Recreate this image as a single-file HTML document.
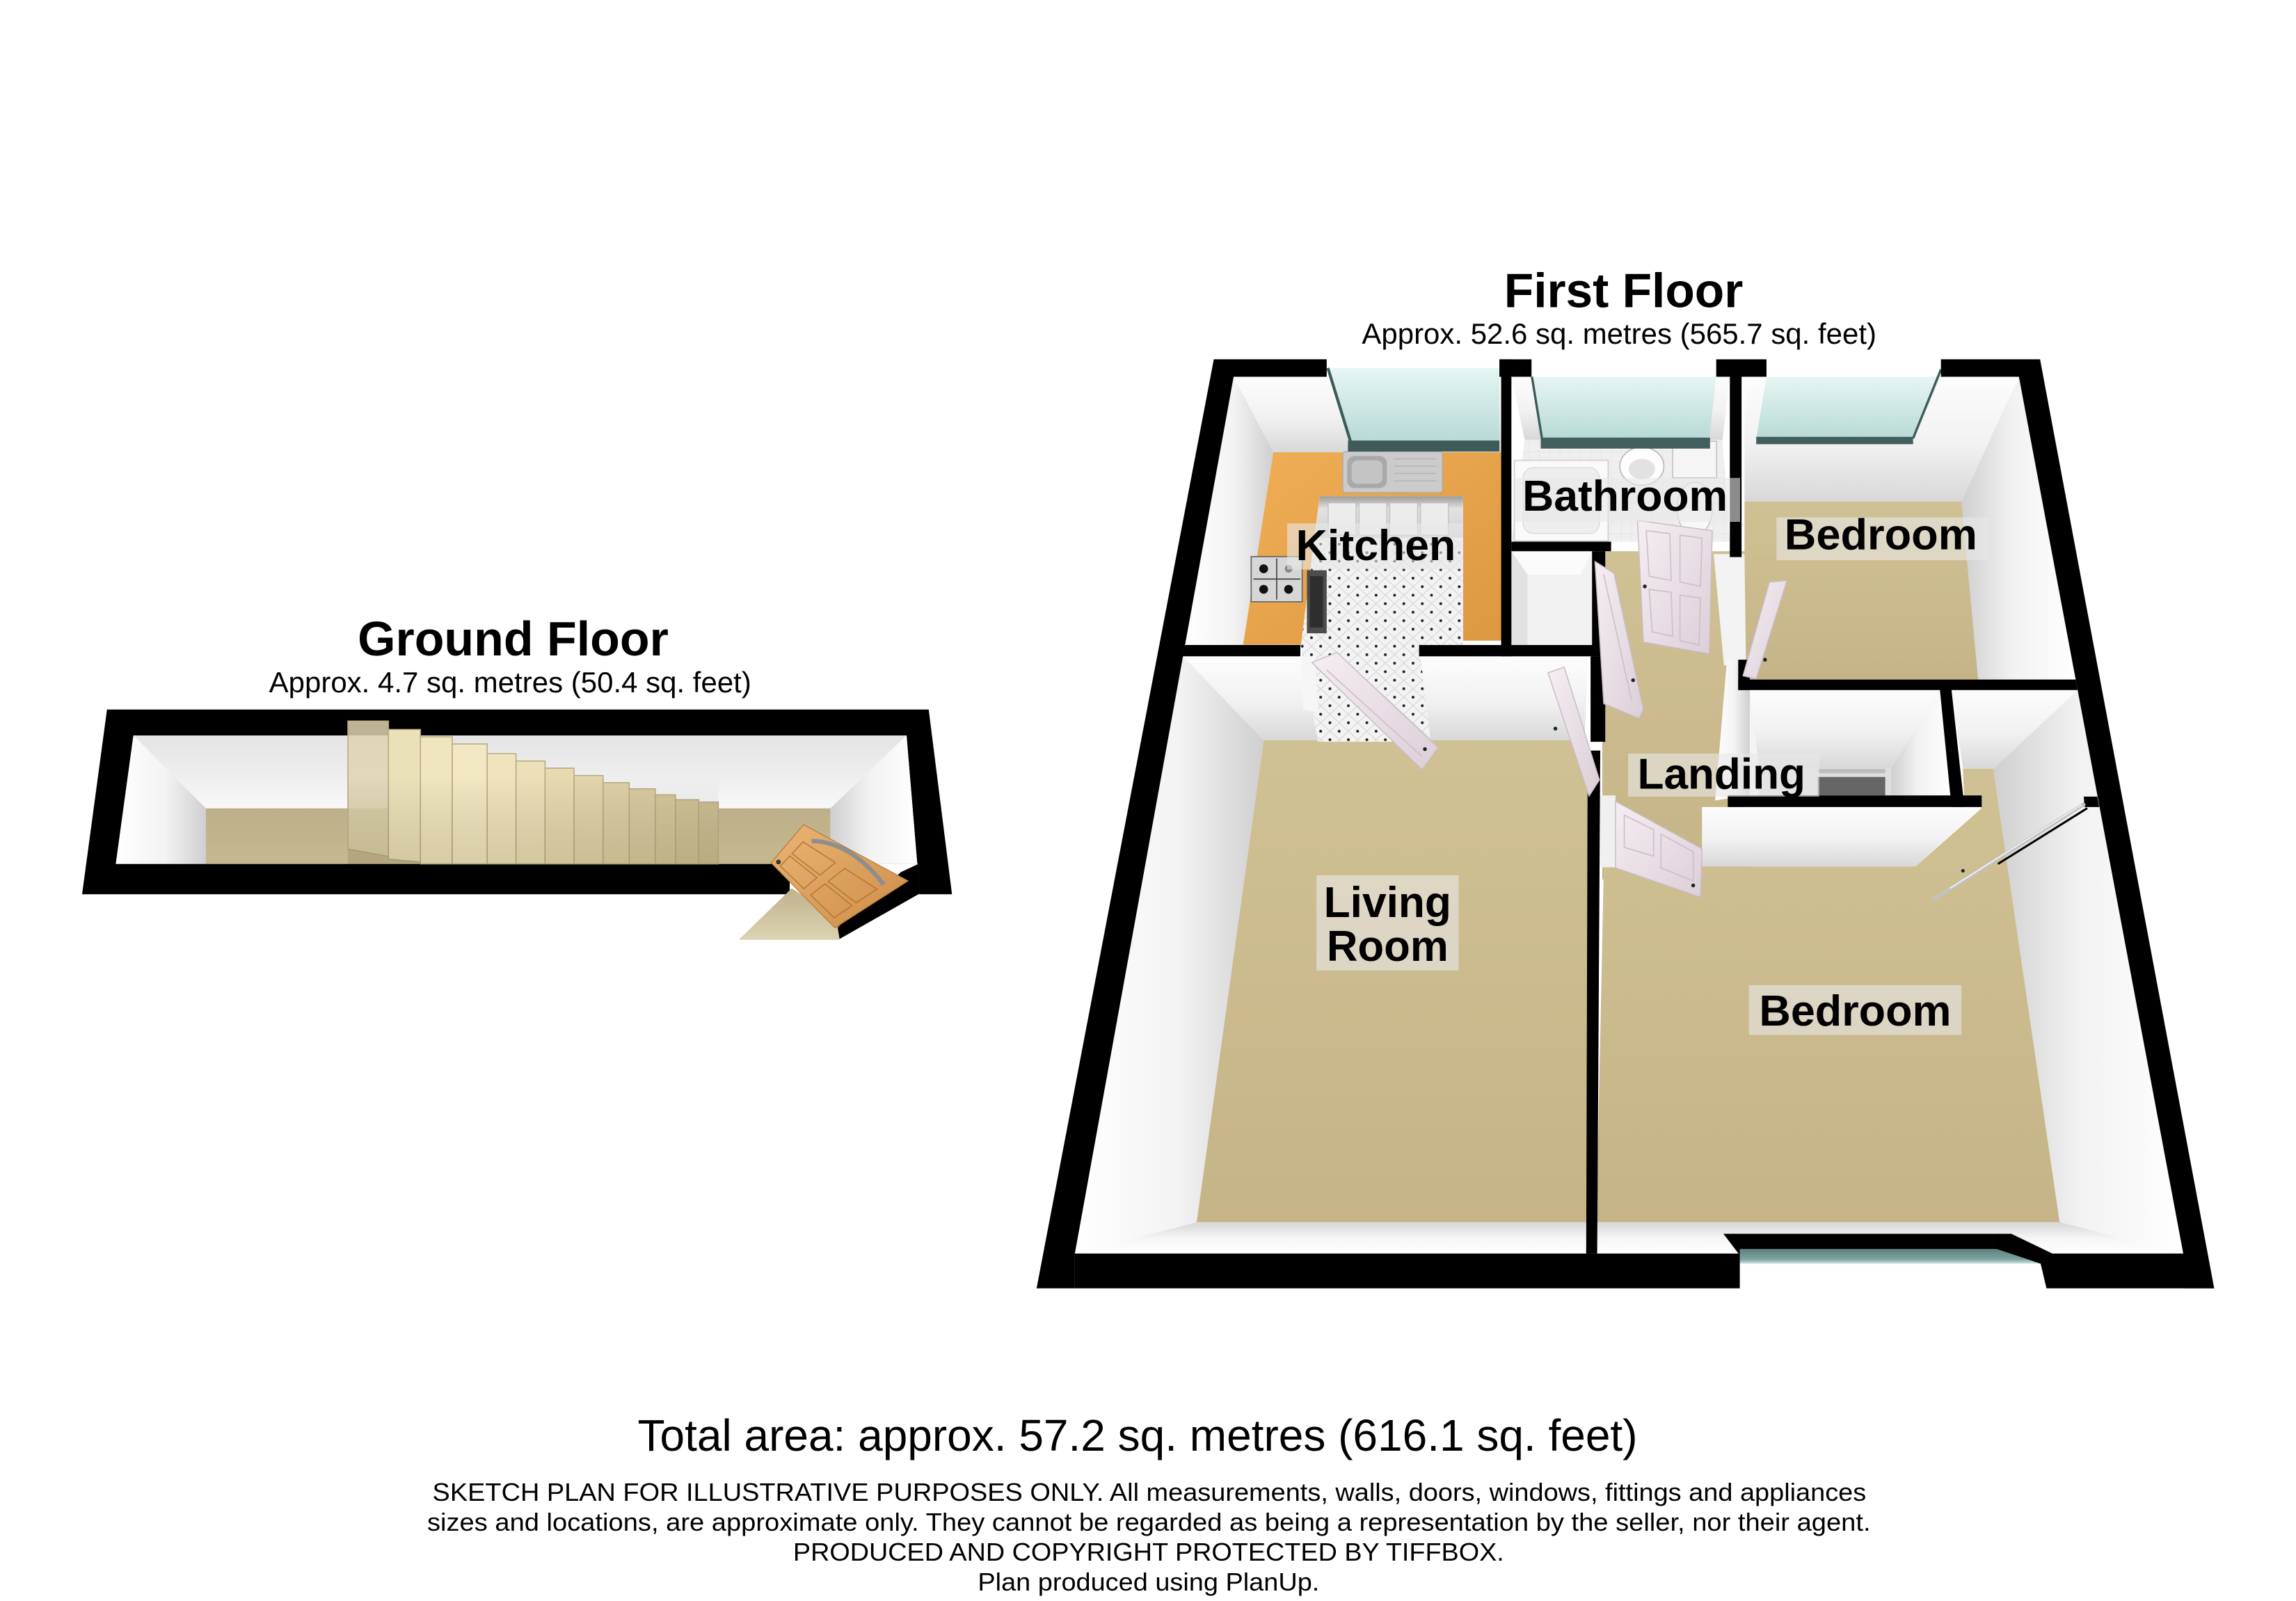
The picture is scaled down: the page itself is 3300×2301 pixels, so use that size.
<!DOCTYPE html>
<html>
<head>
<meta charset="utf-8">
<style>
html,body{margin:0;padding:0;background:#fff;}
svg{display:block;}
text{font-family:"Liberation Sans",Arial,sans-serif;fill:#000;}
</style>
</head>
<body>
<svg xmlns="http://www.w3.org/2000/svg" width="3300" height="2301" viewBox="0 0 1566.2 1092.1" preserveAspectRatio="none">
<defs>
<linearGradient id="gTop" x1="0" y1="0" x2="0" y2="1"><stop offset="0" stop-color="#fdfdfd"/><stop offset="0.55" stop-color="#f1f1f1"/><stop offset="1" stop-color="#d8d8d8"/></linearGradient>
<linearGradient id="gTopG" x1="0" y1="0" x2="0" y2="1"><stop offset="0" stop-color="#e4e4e4"/><stop offset="0.6" stop-color="#efefef"/><stop offset="1" stop-color="#f8f8f8"/></linearGradient>
<linearGradient id="gLeft" x1="0" y1="0" x2="1" y2="0"><stop offset="0" stop-color="#ffffff"/><stop offset="0.55" stop-color="#f3f3f3"/><stop offset="1" stop-color="#cfcfcf"/></linearGradient>
<linearGradient id="gRight" x1="0" y1="0" x2="1" y2="0"><stop offset="0" stop-color="#cfcfcf"/><stop offset="0.45" stop-color="#f2f2f2"/><stop offset="1" stop-color="#ffffff"/></linearGradient>
<linearGradient id="gBot" x1="0" y1="0" x2="0" y2="1"><stop offset="0" stop-color="#d6d6d6"/><stop offset="0.5" stop-color="#f5f5f5"/><stop offset="1" stop-color="#ffffff"/></linearGradient>
<linearGradient id="gFloor" x1="0" y1="0" x2="0" y2="1"><stop offset="0" stop-color="#d0c194"/><stop offset="1" stop-color="#c5b487"/></linearGradient>
<linearGradient id="gFloorG" x1="0" y1="0" x2="0" y2="1"><stop offset="0" stop-color="#bdb08a"/><stop offset="1" stop-color="#c6b88e"/></linearGradient>
<linearGradient id="gGlass" x1="0" y1="0" x2="0" y2="1"><stop offset="0" stop-color="#e6f6f4"/><stop offset="1" stop-color="#b8dad6"/></linearGradient>
<linearGradient id="gGlassB" x1="0" y1="0" x2="0" y2="1"><stop offset="0" stop-color="#5b807e"/><stop offset="0.7" stop-color="#7fa3a0"/><stop offset="1" stop-color="#cfe6e3"/></linearGradient>
<linearGradient id="gOr" x1="0" y1="0" x2="1" y2="1"><stop offset="0" stop-color="#efae56"/><stop offset="1" stop-color="#dd9841"/></linearGradient>
<linearGradient id="gDoor" x1="0" y1="0" x2="1" y2="1"><stop offset="0" stop-color="#f5eef3"/><stop offset="1" stop-color="#dccfd8"/></linearGradient>
<linearGradient id="gWood" x1="0" y1="0" x2="1" y2="1"><stop offset="0" stop-color="#e9b575"/><stop offset="1" stop-color="#cf8c47"/></linearGradient>
<linearGradient id="gWedge" x1="0" y1="0" x2="0" y2="1"><stop offset="0" stop-color="#bfb28c"/><stop offset="1" stop-color="#dcd3b2"/></linearGradient>
<linearGradient id="gStairSh" x1="0" y1="0" x2="0" y2="1"><stop offset="0" stop-color="#000" stop-opacity="0"/><stop offset="1" stop-color="#5a4a20" stop-opacity="0.16"/></linearGradient>
<linearGradient id="gCab" x1="0" y1="0" x2="0" y2="1"><stop offset="0" stop-color="#9c9c9c"/><stop offset="0.3" stop-color="#e2e2e2"/><stop offset="1" stop-color="#d0d0d0"/></linearGradient>
<pattern id="tiles" patternUnits="userSpaceOnUse" width="12.6" height="11.6">
<rect width="12.6" height="11.6" fill="#f3f3f3"/>
<path d="M0,0 L12.6,11.6 M12.6,0 L0,11.6" stroke="#d4d4d4" stroke-width="0.5"/>
<circle cx="6.3" cy="0" r="0.95" fill="#222"/><circle cx="6.3" cy="11.6" r="0.95" fill="#222"/>
<circle cx="0" cy="5.8" r="0.95" fill="#222"/><circle cx="12.6" cy="5.8" r="0.95" fill="#222"/>
</pattern>
<pattern id="btiles" patternUnits="userSpaceOnUse" width="7" height="7">
<rect width="7" height="7" fill="#efefef"/>
<path d="M0,0 H7 M0,0 V7" stroke="#dadada" stroke-width="0.4"/>
</pattern>
</defs>

<rect x="0" y="0" width="1566.2" height="1092.1" fill="#ffffff"/>

<!-- ================= GROUND FLOOR ================= -->
<text x="350" y="447" font-size="33.2" font-weight="700" text-anchor="middle" textLength="212" lengthAdjust="spacingAndGlyphs">Ground Floor</text>
<text x="348" y="472.2" font-size="19.9" text-anchor="middle" textLength="329" lengthAdjust="spacingAndGlyphs">Approx. 4.7 sq. metres (50.4 sq. feet)</text>

<polygon points="73,484 633.5,484 649.4,610 56,610" fill="#000"/>
<polygon points="91,501.7 618.4,501.7 625.7,589.3 79,589.3" fill="#fff"/>
<polygon points="91,501.7 618.4,501.7 566.4,551.4 140.4,551.4" fill="url(#gTopG)"/>
<polygon points="91,501.7 140.4,551.4 140.4,589.3 79,589.3" fill="url(#gLeft)"/>
<polygon points="618.4,501.7 625.7,589.3 566.4,589.3 566.4,551.4" fill="url(#gRight)"/>
<polygon points="140.4,551.4 566.4,551.4 566.4,589.3 140.4,589.3" fill="url(#gFloorG)"/>

<!-- stairs -->
<g stroke="#b5a87e" stroke-width="0.7">
<polygon points="237.3,491.8 265,491.8 265,584.2 237.3,579.2" fill="#ddd3ae" fill-opacity="0.85"/>
<polygon points="265,497.6 286.8,497.6 286.8,588 265,586" fill="#ebe1b9"/>
<polygon points="286.8,502.6 308.5,502.6 308.5,589.3 286.8,589.3" fill="#efe5bf"/>
<polygon points="308.5,507.5 332.3,507.5 332.3,589.3 308.5,589.3" fill="#f1e7c3"/>
<polygon points="332.3,514.1 352,514.1 352,589.3 332.3,589.3" fill="#efe4be"/>
<polygon points="352,519.1 371.8,519.1 371.8,589.3 352,589.3" fill="#ebe0b7"/>
<polygon points="371.8,524 391.6,524 391.6,589.3 371.8,589.3" fill="#e7dab1"/>
<polygon points="391.6,529 411.4,529 411.4,589.3 391.6,589.3" fill="#e2d5ab"/>
<polygon points="411.4,533.9 429.2,533.9 429.2,589.3 411.4,589.3" fill="#ddd0a5"/>
<polygon points="429.2,538.1 447,538.1 447,589.3 429.2,589.3" fill="#d9cba0"/>
<polygon points="447,542.2 460.8,542.2 460.8,589.3 447,589.3" fill="#d5c79b"/>
<polygon points="460.8,545.5 476.6,545.5 476.6,589.3 460.8,589.3" fill="#d1c397"/>
<polygon points="476.6,547.1 490,547.1 490,589.3 476.6,589.3" fill="#cdbf93"/>
</g>
<rect x="237.3" y="530" width="252.7" height="59.3" fill="url(#gStairSh)"/>

<!-- doorway -->
<rect x="538.7" y="589.3" width="87.8" height="21.5" fill="#fff"/>
<polygon points="503.9,641.1 572.7,641.1 572.7,626 540,606" fill="url(#gWedge)"/>
<polygon points="614.6,594.9 626.5,589.3 626.5,610 572.7,640.5 571.4,632.5" fill="#000"/>
<polygon points="548.2,562.5 619.4,600.9 569.5,632.9 526,588.5" fill="url(#gWood)" stroke="#b97b3c" stroke-width="0.6"/>
<path d="M553.6,573.7 Q580,574 602.9,603.4" fill="none" stroke="#8e8e8e" stroke-width="3"/>
<g fill="none" stroke="#b47536" stroke-width="0.7">
<polygon points="547.8,574.3 569.8,588.4 559.4,597 540.3,582.3"/>
<polygon points="576.2,592.4 598.2,606.5 584,615.9 565,601.2"/>
<polygon points="538.8,583.9 557.3,598.7 548.3,606.2 532.3,590.8"/>
<polygon points="562.7,602.9 581.2,617.8 569,626 553,610.6"/>
</g>
<circle cx="531" cy="588" r="1.6" fill="#333"/>

<!-- ================= FIRST FLOOR ================= -->
<text x="1107.5" y="209.5" font-size="33.2" font-weight="700" text-anchor="middle" textLength="163" lengthAdjust="spacingAndGlyphs">First Floor</text>
<text x="1104.5" y="234.5" font-size="19.9" text-anchor="middle" textLength="351" lengthAdjust="spacingAndGlyphs">Approx. 52.6 sq. metres (565.7 sq. feet)</text>

<!-- interior base -->
<polygon points="841.5,257 1377.2,257 1489.3,855.1 733.2,855.1" fill="#fff"/>

<!-- Kitchen -->
<polygon points="841.5,257 1024,257 1024,308.5 868.6,308.5" fill="url(#gTop)"/>
<polygon points="841.5,257 868.6,308.5 848,440 808.3,440" fill="url(#gLeft)"/>
<polygon points="868.6,308.5 1024,308.5 1024,437 998,437 998,338.5 900.2,338.5 887.5,439.8 848,439.8" fill="url(#gOr)"/>
<polygon points="900.2,338.5 998,338.5 998,367 897,367" fill="url(#gCab)"/>
<g stroke="#bdbdbd" stroke-width="0.6" fill="#ececec"><rect x="906" y="343" width="19" height="22"/><rect x="927" y="343" width="19" height="22"/><rect x="948" y="343" width="19" height="22"/><rect x="969" y="343" width="19" height="22"/></g>
<polygon points="897,367 998,367 998,440 887.5,440" fill="url(#tiles)"/>
<rect x="916" y="308" width="68" height="28" rx="2" fill="#cbcbcb" stroke="#a8a8a8" stroke-width="0.6"/>
<rect x="919" y="311" width="27" height="22" rx="5" fill="#a9a9a9"/>
<rect x="922" y="314" width="21" height="16" rx="4" fill="#c4c4c4"/>
<path d="M951,313 H980 M951,318 H980 M951,323 H980 M951,328 H980" stroke="#b3b3b3" stroke-width="0.7"/>
<rect x="853.5" y="379.7" width="34.8" height="30.8" fill="#d6d6d6" stroke="#666" stroke-width="0.8"/>
<g fill="#111"><circle cx="862" cy="388" r="3"/><circle cx="879" cy="388" r="2.6" fill="#888"/><circle cx="862" cy="402" r="3"/><circle cx="879" cy="402" r="3"/></g>
<path d="M855,395 H887 M870.9,381 V409" stroke="#444" stroke-width="0.8"/>
<rect x="891.5" y="389" width="13.5" height="43" fill="#4d4d4d"/>
<rect x="893.5" y="393" width="9" height="35" fill="#2e2e2e"/>

<!-- Bathroom -->
<polygon points="1031,257 1180,257 1175,300 1040,300" fill="url(#gTop)"/>
<polygon points="1040,300 1175,300 1180,369.5 1031,369.5" fill="url(#btiles)"/>
<rect x="1033" y="314" width="64" height="55" fill="#fafafa" stroke="#cfcfcf" stroke-width="0.8"/>
<rect x="1039" y="319" width="52" height="45" rx="7" fill="#eeeeee" stroke="#d8d8d8" stroke-width="0.6"/>
<ellipse cx="1120" cy="318" rx="15" ry="13" fill="#fdfdfd" stroke="#b9b9b9" stroke-width="0.8"/>
<ellipse cx="1120" cy="320" rx="9" ry="7" fill="#e2e2e2"/>
<rect x="1141" y="301" width="30" height="25" fill="#f5f5f5" stroke="#c4c4c4" stroke-width="0.8"/>
<ellipse cx="1156" cy="347" rx="12" ry="18" fill="#f8f8f8" stroke="#c8c8c8" stroke-width="0.8"/>

<!-- Store -->
<rect x="1031" y="376" width="55" height="64" fill="#f2f2f2"/>
<polygon points="1031,376 1086,376 1078,392 1042,392" fill="#fbfbfb"/>
<polygon points="1031,376 1042,392 1042,440 1031,440" fill="#e2e2e2"/>

<!-- Landing floor -->
<rect x="1093" y="376" width="99" height="224" fill="url(#gFloor)"/>

<!-- Bedroom 1 -->
<polygon points="1190,257 1377.2,257 1338,342 1190,342" fill="url(#gTop)"/>
<polygon points="1338,342 1377.2,257 1415.9,463.5 1349.4,463.5" fill="url(#gRight)"/>
<polygon points="1190,342 1338,342 1349.4,463.5 1190,463.5" fill="url(#gFloor)"/>
<polygon points="1169,378 1190,378 1191,452 1176,454" fill="#f3f3f3"/>

<!-- Cupboard -->
<rect x="1186" y="470.7" width="146" height="72" fill="#f4f4f4"/>
<polygon points="1193.6,470.7 1323.3,470.7 1290,524 1200,524" fill="url(#gTop)"/>
<polygon points="1323.3,470.7 1331.2,542.6 1290,542.6 1290,524" fill="url(#gRight)"/>
<rect x="1200" y="524" width="90" height="18.6" fill="#dedede"/>
<rect x="1240" y="524.5" width="46" height="3" fill="#bdbdbd"/>
<rect x="1240" y="530" width="46" height="12.6" fill="#666"/>
<polygon points="1178,450 1193.6,450 1193.6,542.6 1170,546" fill="url(#gLeft)"/>

<!-- Wardrobe back -->
<polygon points="1331.2,470.6 1417.5,470.6 1359.7,524.4 1339,524.4" fill="url(#gTop)"/>

<!-- Bedroom 2 -->
<polygon points="1094,591 1306.7,591 1351.8,551.3 1340,550 1339,524.4 1359.7,524.4 1405,833.7 1089,833.7" fill="url(#gFloor)"/>
<polygon points="1359.7,524.4 1417.5,470.6 1489.3,855.1 1405,833.7" fill="url(#gRight)"/>
<polygon points="1089,833.7 1405,833.7 1489.3,855.1 1089,855.1" fill="url(#gBot)"/>
<polygon points="1161,550.5 1351.8,550.5 1306.7,591 1161,591" fill="url(#gTop)"/>
<rect x="1091.6" y="542.6" width="10.4" height="49" fill="#f0f0f0"/>

<!-- Living room -->
<polygon points="806.9,447.7 1083,447.7 1081,505 862,505" fill="url(#gTop)"/>
<polygon points="806.9,447.7 862,505 816.3,833.7 733.2,855.1" fill="url(#gLeft)"/>
<polygon points="862,505 1083,505 1082,833.7 816.3,833.7" fill="url(#gFloor)"/>
<polygon points="816.3,833.7 1082,833.7 1082,855.1 733.2,855.1" fill="url(#gBot)"/>
<polygon points="887,440 968,440 976,506 899,506" fill="url(#tiles)"/>
<polygon points="887,447.7 897,447.7 899,486 889,484" fill="#f6f6f6"/>

<!-- Windows (top) -->
<polygon points="905,251 1022.8,251 1022.8,301 921,301" fill="url(#gGlass)"/>
<line x1="905.8" y1="251" x2="921.5" y2="302" stroke="#3d5b59" stroke-width="2"/>
<rect x="919.5" y="300.5" width="103.3" height="7.5" fill="#3f5b59"/>
<polygon points="1044.7,257 1170.7,257 1166,299 1052,299" fill="url(#gGlass)"/>
<line x1="1045" y1="257" x2="1052" y2="300" stroke="#3d5b59" stroke-width="1.6"/>
<rect x="1051" y="298.5" width="115.5" height="7.5" fill="#425f5d"/>
<polygon points="1205,257 1324,257 1305,299 1198,299" fill="url(#gGlass)"/>
<line x1="1324" y1="252" x2="1305" y2="299" stroke="#3d5b59" stroke-width="1.6"/>
<rect x="1198" y="298" width="107" height="5" fill="#425f5d"/>

<!-- Bottom window -->
<polygon points="1186.8,852 1362,852 1392,862 1186.8,862" fill="url(#gGlassB)"/>

<!-- ===== Black walls ===== -->
<g fill="#000">
<polygon points="828,245.1 905,245.1 905,257 841.5,257 733.2,855.1 733.2,878.8 707.1,878.8"/>
<polygon points="733.2,855.1 1185.9,855.1 1175.6,841.6 1360,841.6 1360,852 1186.8,852 1186.8,878.8 733.2,878.8"/>
<polygon points="1360,841.6 1372,841.6 1400,855.1 1489.3,855.1 1510.4,878.8 1396,878.8 1392,862 1362,852 1360,852"/>
<polygon points="1324,245.1 1391.6,245.1 1510.4,878.8 1489.3,878.8 1489.3,855.1 1377.2,257 1324,257"/>
<rect x="1022.8" y="245.1" width="21.9" height="11.9"/>
<rect x="1170.7" y="245.1" width="34.3" height="11.9"/>
<rect x="1024" y="245.1" width="7" height="202.6"/>
<polygon points="808.3,440 887,440 887,447.7 806.9,447.7"/>
<rect x="968" y="440" width="127" height="7.7"/>
<rect x="1031" y="369.5" width="68" height="6.5"/>
<rect x="1086" y="376" width="9" height="71.7"/>
<rect x="1085" y="447.7" width="10" height="58.3"/>
<polygon points="1083,512 1091.6,512 1089.5,855.1 1082,855.1"/>
<rect x="1180" y="257" width="8" height="123"/>
<rect x="1185.7" y="450" width="7.9" height="20.7"/>
<polygon points="1185.7,463.5 1415.9,463.5 1417.2,470.7 1185.7,470.7"/>
<rect x="1178.6" y="542.6" width="173.2" height="7.9"/>
<polygon points="1323.3,470.6 1331.2,470.6 1340,550.5 1331.2,550.5"/>
<polygon points="1421.4,543.4 1430.6,543.4 1432,550.5 1422,550.5"/>
</g>

<!-- ===== Doors ===== -->
<g stroke="#c9bcc6" stroke-width="0.7">
<polygon points="895,452 912,445 981,510 970,525" fill="url(#gDoor)"/>
<polygon points="1056,459 1067,455 1091,532 1084,543" fill="url(#gDoor)"/>
<polygon points="1088,383 1101,391 1121,484 1118,490 1094,480" fill="url(#gDoor)"/>
<polygon points="1117,355 1168,362 1166,446 1121,438" fill="url(#gDoor)"/>
<polygon points="1207,397 1219,396 1198,463 1189,461" fill="url(#gDoor)"/>
<polygon points="1102,546.6 1161,579 1160,612 1102,592" fill="url(#gDoor)"/>
</g>
<g fill="none" stroke="#cdbfca" stroke-width="0.8">
<polygon points="1123,362 1139,364 1140,396 1125,393"/>
<polygon points="1146,365 1161,367 1160,400 1146,397"/>
<polygon points="1125,402 1140,404 1141,434 1127,431"/>
<polygon points="1146,406 1160,408 1159,440 1146,437"/>
<polygon points="1108,556 1128,566 1128,584 1108,578"/>
<polygon points="1133,569 1155,581 1155,601 1133,592"/>
<line x1="905" y1="457" x2="970" y2="516"/>
<line x1="1094" y1="392" x2="1113" y2="478"/>
</g>
<g fill="#222">
<circle cx="1122" cy="400" r="1.3"/><circle cx="1114" cy="464" r="1.3"/><circle cx="1204" cy="450" r="1.3"/>
<circle cx="1155" cy="604" r="1.3"/><circle cx="1061" cy="497" r="1.3"/><circle cx="972" cy="511" r="1.3"/>
<circle cx="1339" cy="594" r="1.2"/>
</g>

<!-- Wardrobe sliding door -->
<line x1="1318.6" y1="613.8" x2="1422.2" y2="548.1" stroke="#c2c2c2" stroke-width="2.6"/>
<line x1="1362.9" y1="589.3" x2="1423.8" y2="551.3" stroke="#000" stroke-width="1.4"/>
<line x1="1330" y1="606" x2="1420" y2="549" stroke="#f5f5f5" stroke-width="0.8"/>

<!-- ===== Labels ===== -->
<g fill="#e8e8e8" fill-opacity="0.6">
<rect x="878" y="357" width="120" height="31.4"/>
<rect x="1033" y="326" width="154" height="30"/>
<rect x="1211.8" y="352.9" width="145" height="29.2"/>
<rect x="1110.6" y="514" width="130.4" height="29.4"/>
<rect x="898" y="597" width="97" height="65"/>
<rect x="1193" y="672" width="145" height="34"/>
</g>
<g font-size="29.7" font-weight="700" text-anchor="middle">
<text x="938.5" y="382" textLength="109" lengthAdjust="spacingAndGlyphs">Kitchen</text>
<text x="1108.5" y="348.3" textLength="140" lengthAdjust="spacingAndGlyphs">Bathroom</text>
<text x="1283" y="374.8" textLength="131.5" lengthAdjust="spacingAndGlyphs">Bedroom</text>
<text x="1174.3" y="538" textLength="114.6" lengthAdjust="spacingAndGlyphs">Landing</text>
<text x="946.5" y="625.5" textLength="87" lengthAdjust="spacingAndGlyphs">Living</text>
<text x="946.5" y="655.5" textLength="83" lengthAdjust="spacingAndGlyphs">Room</text>
<text x="1265.5" y="699.5" textLength="131" lengthAdjust="spacingAndGlyphs">Bedroom</text>
</g>

<!-- ===== Footer ===== -->
<text x="776" y="989.6" font-size="30.5" text-anchor="middle" textLength="682" lengthAdjust="spacingAndGlyphs">Total area: approx. 57.2 sq. metres (616.1 sq. feet)</text>
<g font-size="17.1" text-anchor="middle">
<text x="784" y="1023.7" textLength="978" lengthAdjust="spacingAndGlyphs">SKETCH PLAN FOR ILLUSTRATIVE PURPOSES ONLY. All measurements, walls, doors, windows, fittings and appliances</text>
<text x="783.7" y="1044.1" textLength="984.6" lengthAdjust="spacingAndGlyphs">sizes and locations, are approximate only. They cannot be regarded as being a representation by the seller, nor their agent.</text>
<text x="783.5" y="1064.5" textLength="485" lengthAdjust="spacingAndGlyphs">PRODUCED AND COPYRIGHT PROTECTED BY TIFFBOX.</text>
<text x="783.5" y="1084.9" textLength="233" lengthAdjust="spacingAndGlyphs">Plan produced using PlanUp.</text>
</g>
</svg>
</body>
</html>
